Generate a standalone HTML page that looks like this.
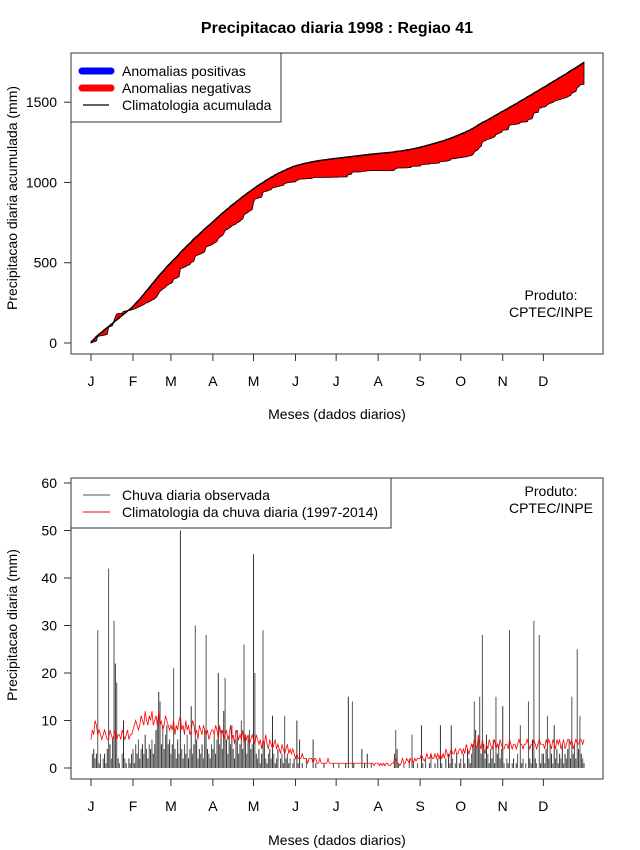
<!DOCTYPE html>
<html><head><meta charset="utf-8"><style>
body{margin:0;background:#fff;}
svg{display:block;font-family:"Liberation Sans",Arial,sans-serif;}
</style></head><body>
<svg id="chart" width="640" height="850" viewBox="0 0 640 850" xmlns="http://www.w3.org/2000/svg">
<rect width="640" height="850" fill="#fff"/>
<text x="337" y="33" text-anchor="middle" font-size="16" font-weight="bold">Precipitacao diaria 1998 : Regiao 41</text>
<g id="topPanel"></g>
<g id="botPanel"></g>
</svg>
<script>
const monthLabels = ["J","F","M","A","M","J","J","A","S","O","N","D"];
const monthStartDays = [1,32,60,91,121,152,182,213,244,274,305,335];
const topTicks = [0,500,1000,1500];
const botTicks = [0,10,20,30,40,50,60];
const obsDaily = [
0,3,4,2,3,29,1,3,0,2,3,1,4,42,5,2,6,31,22,18,2,1,0,3,10,2,1,0,2,1,3,
4,1,5,3,6,2,4,5,3,7,4,2,5,4,6,3,5,8,10,16,14,5,9,4,7,9,5,6,
3,5,21,4,2,6,3,50,4,2,5,3,7,2,4,13,3,5,30,6,2,4,3,5,2,8,28,4,3,2,5,
4,7,3,6,20,5,8,4,12,19,6,3,7,5,9,4,2,6,8,3,5,10,4,26,7,3,6,8,4,5,
45,20,3,2,4,1,3,29,5,2,1,3,4,2,11,3,1,2,4,0,2,3,1,11,2,3,1,2,0,1,2,
0,10,1,6,0,1,0,0,2,0,0,0,0,6,0,1,0,0,0,0,0,1,0,0,0,0,0,0,1,0,
0,0,1,0,0,0,0,1,0,15,0,0,14,1,0,0,0,0,0,4,0,1,0,3,0,0,1,0,0,0,0,
0,0,0,0,0,0,0,0,0,0,0,0,3,8,4,1,0,0,0,1,0,0,0,2,0,7,1,0,0,1,0,
0,9,1,0,2,0,0,1,3,0,0,1,0,2,0,9,1,0,0,2,0,3,1,9,2,0,1,3,0,1,
2,0,3,1,0,4,2,1,3,5,14,8,4,6,15,3,28,5,2,7,3,1,4,2,6,1,15,3,5,2,4,
13,1,0,2,1,29,0,1,2,0,1,3,0,9,1,2,0,1,0,14,2,1,6,31,2,1,0,28,1,3,
3,1,4,11,2,5,3,1,9,2,4,1,3,2,5,1,3,2,4,6,2,15,3,5,2,25,4,11,3,2,1];
const climDaily = [
6,8,7,10,9,7,8,7,6,7,8,7,6,6,8,7,6,7,8,6,7,7,6,8,7,6,7,8,6,7,7,
8,9,10,9,8,9,11,10,9,12,10,9,11,10,12,9,10,11,9,12,9,10,8,9,11,10,9,8,
9,8,10,7,9,8,10,11,8,9,7,10,8,9,7,8,10,9,7,8,6,9,8,7,9,8,7,8,6,7,8,
8,7,9,8,6,9,7,8,6,7,8,6,7,9,6,7,5,8,7,6,7,6,8,5,7,6,7,5,6,7,
6,5,7,6,5,6,4,6,5,7,5,4,6,5,4,5,6,4,5,4,3,5,4,3,4,5,3,4,3,4,3,
2,3,2,2,2,3,2,2,2,1,2,2,2,1,2,2,1,1,2,1,1,1,1,1,2,1,1,1,1,1,
1,1,1,1,1,1,1,1,1,1,1,1,1,1,1,1,1,1,1,1,1,1,1,1,1,1,1,1,0.5,1,1,
1,0.5,1,0.5,1,0.5,1,1,0.5,0.5,1,1,1.5,2,1,1,0.5,1,2,1,1,2,1.5,1,2,2,1,2,1.5,2,2,
2,3,2,1.5,2,3,2,2,3,2,2,3,2,3,2,3,2,3,2,4,3,2,3,4,3,3,4,3,3,4,
4,3,4,3,5,4,3,4,5,4,6,5,4,7,5,4,6,4,3,5,4,6,5,4,5,6,4,5,4,6,5,
4,4,5,5,4,6,5,4,5,5,4,5,6,5,5,4,5,5,6,5,4,5,5,6,5,4,5,6,5,5,
5,4,6,5,6,5,4,6,5,4,6,5,6,4,5,6,4,5,6,6,5,6,4,5,6,5,5,6,6,5,6];

const NS="http://www.w3.org/2000/svg";
function mk(parent,tag,attrs,text){const e=document.createElementNS(NS,tag);for(const k in attrs)e.setAttribute(k,attrs[k]);if(text!==undefined)e.textContent=text;parent.appendChild(e);return e;}
const xDay = d => 91 + (d-1)*(584-91)/364;
const yTop = v => 343 - v*(343-102.2)/1500;
const yBot = v => 768 - v*(768-483)/60;

const cumObs=[],cumClim=[];let so=0,sc=0;
for(let i=0;i<obsDaily.length;i++){so+=obsDaily[i];sc+=climDaily[i];cumObs.push(so);cumClim.push(sc);}

function xAxis(g,yb,labY,titleY,prefix){
  for(let i=0;i<monthLabels.length;i++){
    const x=xDay(monthStartDays[i]);
    const t=mk(g,'line',{x1:x,x2:x,y1:yb,y2:yb+7,stroke:'#333'});
    
    
    const l=mk(g,'text',{x:x,y:labY,'text-anchor':'middle','font-size':14},monthLabels[i]);
    
    
  }
  const tt=mk(g,'text',{x:337,y:titleY,'text-anchor':'middle','font-size':14},'Meses (dados diarios)');
  
  
}
function yAxis(g,ticks,yf,prefix,title,titleY){
  for(const v of ticks){
    const y=yf(v);
    const t=mk(g,'line',{x1:64,x2:71,y1:y,y2:y,stroke:'#333'});
    
    
    const l=mk(g,'text',{x:57,y:y+5,'text-anchor':'end','font-size':14},String(v));
    
    
  }
  const tt=mk(g,'text',{x:0,y:0,'text-anchor':'middle','font-size':14,transform:`translate(17,${titleY}) rotate(-90)`},title);
  
  
}

// TOP
const topG=document.getElementById('topPanel');
let pts=[];
for(let i=0;i<cumClim.length;i++)pts.push(xDay(i+1).toFixed(2)+','+yTop(cumClim[i]).toFixed(2));
for(let i=cumObs.length-1;i>=0;i--)pts.push(xDay(i+1).toFixed(2)+','+yTop(cumObs[i]).toFixed(2));
const poly=mk(topG,'polygon',{points:pts.join(' '),fill:'#ff0000',stroke:'#000','stroke-width':0.8});


const cl=mk(topG,'polyline',{points:cumClim.map((v,i)=>xDay(i+1).toFixed(2)+','+yTop(v).toFixed(2)).join(' '),fill:'none',stroke:'#000','stroke-width':1.5});


const tb=mk(topG,'rect',{x:71,y:53,width:532,height:301,fill:'none',stroke:'#333'});


xAxis(topG,354,386,419,'top');
yAxis(topG,topTicks,yTop,'top','Precipitacao diaria acumulada (mm)',198);
const lg=mk(topG,'g',{});


mk(lg,'rect',{x:71,y:53,width:210,height:69,fill:'#fff',stroke:'#333'});
mk(lg,'line',{x1:82,x2:111,y1:71,y2:71,stroke:'#0000ff','stroke-width':7,'stroke-linecap':'round'});
mk(lg,'line',{x1:82,x2:111,y1:88,y2:88,stroke:'#ff0000','stroke-width':7,'stroke-linecap':'round'});
mk(lg,'line',{x1:83,x2:109,y1:105,y2:105,stroke:'#000','stroke-width':1.2});
mk(lg,'text',{x:122,y:76,'font-size':14},'Anomalias positivas');
mk(lg,'text',{x:122,y:93,'font-size':14},'Anomalias negativas');
mk(lg,'text',{x:122,y:110,'font-size':14},'Climatologia acumulada');
const p1=mk(topG,'text',{x:551,y:300,'text-anchor':'middle','font-size':14},'Produto:');


mk(topG,'text',{x:551,y:317,'text-anchor':'middle','font-size':14},'CPTEC/INPE');

// BOTTOM
const botG=document.getElementById('botPanel');
const bars=mk(botG,'g',{});


for(let i=0;i<obsDaily.length;i++){
  const x=xDay(i+1);
  const b=mk(bars,'line',{x1:x.toFixed(2),x2:x.toFixed(2),y1:yBot(0),y2:yBot(obsDaily[i]).toFixed(2),stroke:i%2?'#555':'#333','stroke-width':1});
  
  
}
const cd=mk(botG,'polyline',{points:climDaily.map((v,i)=>xDay(i+1).toFixed(2)+','+yBot(v).toFixed(2)).join(' '),fill:'none',stroke:'#ff0000','stroke-width':0.8});


const bb=mk(botG,'rect',{x:71,y:478,width:532,height:301,fill:'none',stroke:'#333'});


xAxis(botG,779,811,845,'bottom');
yAxis(botG,botTicks,yBot,'bottom','Precipitacao diaria (mm)',625);
const lg2=mk(botG,'g',{});


mk(lg2,'rect',{x:71,y:478,width:320,height:50,fill:'#fff',stroke:'#333'});
mk(lg2,'line',{x1:83,x2:110,y1:495,y2:495,stroke:'#555','stroke-width':1});
mk(lg2,'line',{x1:83,x2:110,y1:512,y2:512,stroke:'#ff0000','stroke-width':1});
mk(lg2,'text',{x:122,y:500,'font-size':14},'Chuva diaria observada');
mk(lg2,'text',{x:122,y:517,'font-size':14},'Climatologia da chuva diaria (1997-2014)');
const p2=mk(botG,'text',{x:551,y:496,'text-anchor':'middle','font-size':14},'Produto:');


mk(botG,'text',{x:551,y:513,'text-anchor':'middle','font-size':14},'CPTEC/INPE');
</script>
</body></html>
